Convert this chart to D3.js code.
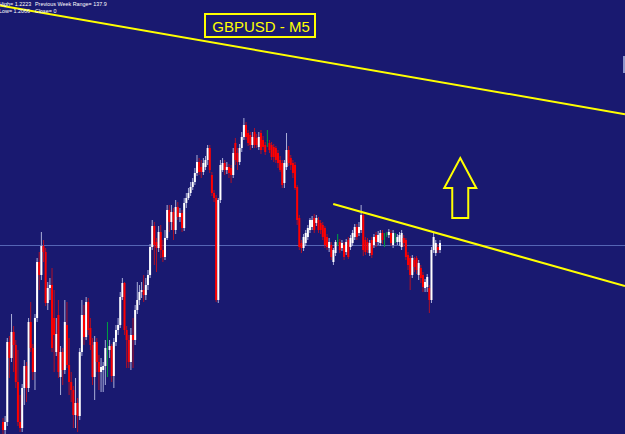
<!DOCTYPE html>
<html>
<head>
<meta charset="utf-8">
<title>GBPUSD - M5</title>
<script src="https://cdn.jsdelivr.net/npm/d3@7"></script>
<style>
  html, body { margin: 0; padding: 0; background: #191970; }
  svg { display: block; }
</style>
</head>
<body>
<svg width="625" height="434"></svg>
<script>
// candle data (5 min bars)
var opens = [
  1.21978,1.21970,1.21978,1.22058,1.22042,1.22068,1.22055,1.22018,1.21978,1.21972,
  1.22012,1.22034,1.22012,1.22078,1.22052,1.22028,1.22082,1.22138,1.22125,1.22154,
  1.22148,1.22097,1.22112,1.22115,1.22082,1.22048,1.22085,1.22023,1.22048,1.22030,
  1.22075,1.22035,1.22018,1.22010,1.21985,1.21997,1.21984,1.22048,1.22085,1.22063,
  1.22098,1.22072,1.22055,1.22023,1.22058,1.22038,1.22028,1.22030,1.22034,1.22052,
  1.22050,1.22054,1.22024,1.22058,1.22070,1.22075,1.22103,1.22117,1.22070,1.22060,
  1.22038,1.22065,1.22060,1.22090,1.22100,1.22108,1.22110,1.22105,1.22115,1.22125,
  1.22153,1.22174,1.22158,1.22152,1.22168,1.22150,1.22143,1.22162,1.22190,1.22178,
  1.22188,1.22170,1.22193,1.22183,1.22187,1.22172,1.22197,1.22202,1.22207,1.22213,
  1.22218,1.22227,1.22238,1.22233,1.22228,1.22233,1.22240,1.22252,1.22225,1.22207,
  1.22202,1.22100,1.22200,1.22230,1.22237,1.22230,1.22233,1.22232,1.22225,1.22257,
  1.22247,1.22238,1.22252,1.22263,1.22275,1.22267,1.22265,1.22255,1.22268,
  1.22262,1.22253,1.22267,1.22260,1.22255,1.22260,1.22257,1.22255,1.22253,
  1.22252,1.22247,1.22240,1.22237,1.22217,1.22233,1.22250,1.22242,1.22237,1.22235,
  1.22213,1.22182,1.22157,1.22152,1.22157,1.22163,1.22170,1.22173,1.22182,1.22177,
  1.22180,1.22177,1.22175,1.22172,1.22163,1.22152,1.22155,1.22138,1.22147,1.22160,
  1.22158,1.22152,1.22155,1.22148,1.22160,1.22153,1.22157,1.22163,1.22173,1.22167,
  1.22170,1.22185,1.22160,1.22158,1.22147,1.22160,1.22155,1.22165,
  1.22158,1.22157,1.22167,1.22162,1.22166,1.22165,1.22167,1.22155,
  1.22162,1.22158,1.22158,1.22153,1.22162,1.22160,1.22145,1.22142,1.22125,1.22140,
  1.22142,1.22125,1.22132,1.22125,1.22112,1.22113,1.22112,1.22100,1.22150,1.22147,
  1.22153,1.22150
];
var highs = [
  1.21982,1.21984,1.22062,1.22064,1.22086,1.22074,1.22060,1.22050,1.22005,1.22016,
  1.22040,1.22038,1.22082,1.22098,1.22056,1.22086,1.22142,1.22148,1.22168,1.22160,
  1.22152,1.22118,1.22122,1.22132,1.22110,1.22082,1.22100,1.22054,1.22052,1.22100,
  1.22098,1.22062,1.22028,1.22014,1.22022,1.22002,1.22052,1.22100,1.22095,1.22103,
  1.22102,1.22082,1.22062,1.22064,1.22062,1.22045,1.22042,1.22038,1.22060,1.22078,
  1.22060,1.22056,1.22062,1.22075,1.22082,1.22108,1.22122,1.22118,1.22074,1.22065,
  1.22072,1.22082,1.22095,1.22118,1.22115,1.22118,1.22125,1.22122,1.22130,1.22156,
  1.22180,1.22178,1.22162,1.22174,1.22175,1.22160,1.22170,1.22195,1.22195,1.22195,
  1.22192,1.22200,1.22198,1.22192,1.22190,1.22202,1.22207,1.22212,1.22218,1.22222,
  1.22232,1.22245,1.22242,1.22240,1.22242,1.22244,1.22255,1.22255,1.22228,1.22210,
  1.22205,1.22202,1.22240,1.22242,1.22240,1.22238,1.22236,1.22235,1.22252,1.22262,
  1.22252,1.22256,1.22268,1.22282,1.22278,1.22270,1.22268,1.22268,1.22272,
  1.22266,1.22268,1.22270,1.22264,1.22258,1.22270,1.22260,1.22258,1.22256,
  1.22254,1.22250,1.22244,1.22240,1.22240,1.22267,1.22254,1.22245,1.22240,1.22238,
  1.22215,1.22185,1.22160,1.22166,1.22170,1.22175,1.22182,1.22184,1.22186,1.22185,
  1.22183,1.22180,1.22178,1.22174,1.22166,1.22162,1.22158,1.22152,1.22160,1.22166,
  1.22161,1.22160,1.22158,1.22161,1.22163,1.22165,1.22170,1.22176,1.22176,1.22178,
  1.22195,1.22188,1.22163,1.22162,1.22160,1.22163,1.22166,1.22168,
  1.22169,1.22170,1.22170,1.22167,1.22168,1.22171,1.22170,1.22170,
  1.22167,1.22166,1.22168,1.22170,1.22165,1.22162,1.22148,1.22144,1.22145,1.22143,
  1.22144,1.22140,1.22135,1.22128,1.22121,1.22126,1.22115,1.22153,1.22167,1.22160,
  1.22156,1.22160
];
var lows = [
  1.21966,1.21966,1.21974,1.22022,1.22038,1.22028,1.22012,1.21974,1.21968,1.21968,
  1.21995,1.21998,1.22008,1.22048,1.22020,1.22010,1.22078,1.22110,1.22120,1.22138,
  1.22094,1.22090,1.22100,1.22048,1.22028,1.22044,1.22022,1.22005,1.22015,1.22026,
  1.22032,1.22005,1.21998,1.21972,1.21972,1.21968,1.21980,1.22044,1.22055,1.22060,
  1.22065,1.22050,1.22015,1.22000,1.22028,1.22010,1.22008,1.22008,1.22015,1.22023,
  1.22042,1.22018,1.22012,1.22054,1.22065,1.22072,1.22100,1.22065,1.22032,1.22032,
  1.22030,1.22032,1.22055,1.22086,1.22095,1.22102,1.22098,1.22100,1.22110,1.22122,
  1.22150,1.22135,1.22128,1.22148,1.22142,1.22138,1.22140,1.22160,1.22168,1.22170,
  1.22160,1.22166,1.22180,1.22178,1.22168,1.22169,1.22192,1.22200,1.22204,1.22210,
  1.22215,1.22224,1.22225,1.22222,1.22225,1.22230,1.22235,1.22227,1.22204,1.22198,
  1.22098,1.22097,1.22197,1.22228,1.22225,1.22226,1.22222,1.22217,1.22222,1.22235,
  1.22230,1.22235,1.22248,1.22260,1.22260,1.22254,1.22250,1.22252,1.22252,
  1.22252,1.22250,1.22246,1.22250,1.22245,1.22253,1.22247,1.22240,1.22238,
  1.22237,1.22232,1.22228,1.22212,1.22212,1.22230,1.22234,1.22230,1.22222,1.22210,
  1.22175,1.22150,1.22147,1.22149,1.22154,1.22160,1.22167,1.22170,1.22167,1.22174,
  1.22167,1.22166,1.22160,1.22152,1.22150,1.22148,1.22140,1.22135,1.22144,1.22154,
  1.22147,1.22149,1.22140,1.22145,1.22141,1.22150,1.22154,1.22160,1.22160,1.22164,
  1.22167,1.22144,1.22145,1.22147,1.22144,1.22142,1.22152,1.22153,
  1.22155,1.22154,1.22156,1.22153,1.22163,1.22162,1.22154,1.22152,
  1.22157,1.22155,1.22154,1.22150,1.22153,1.22140,1.22130,1.22110,1.22122,1.22128,
  1.22126,1.22120,1.22117,1.22108,1.22108,1.22108,1.22087,1.22097,1.22147,1.22144,
  1.22147,1.22147
];
var closes = [
  1.21970,1.21978,1.22058,1.22042,1.22068,1.22055,1.22018,1.21978,1.21972,1.22012,
  1.22034,1.22012,1.22078,1.22052,1.22028,1.22082,1.22138,1.22125,1.22154,1.22148,
  1.22097,1.22112,1.22115,1.22052,1.22065,1.22066,1.22028,1.22048,1.22030,1.22078,
  1.22035,1.22018,1.22010,1.21985,1.21997,1.21984,1.22048,1.22085,1.22063,1.22098,
  1.22070,1.22055,1.22023,1.22058,1.22038,1.22028,1.22033,1.22034,1.22052,1.22052,
  1.22054,1.22024,1.22058,1.22070,1.22075,1.22103,1.22117,1.22070,1.22060,1.22038,
  1.22065,1.22060,1.22090,1.22100,1.22108,1.22110,1.22105,1.22115,1.22125,1.22153,
  1.22174,1.22155,1.22152,1.22168,1.22150,1.22143,1.22162,1.22190,1.22178,1.22188,
  1.22170,1.22193,1.22183,1.22187,1.22172,1.22197,1.22202,1.22207,1.22213,1.22218,
  1.22227,1.22238,1.22228,1.22228,1.22237,1.22240,1.22252,1.22230,1.22207,1.22202,
  1.22100,1.22200,1.22235,1.22237,1.22230,1.22233,1.22227,1.22225,1.22247,1.22240,
  1.22238,1.22252,1.22263,1.22275,1.22263,1.22257,1.22255,1.22263,1.22255,
  1.22255,1.22263,1.22250,1.22253,1.22248,1.22260,1.22250,1.22243,1.22243,
  1.22240,1.22237,1.22230,1.22215,1.22237,1.22250,1.22237,1.22235,1.22227,1.22212,
  1.22180,1.22153,1.22152,1.22163,1.22167,1.22172,1.22180,1.22180,1.22170,1.22182,
  1.22170,1.22170,1.22163,1.22155,1.22153,1.22158,1.22143,1.22150,1.22158,1.22160,
  1.22150,1.22157,1.22143,1.22158,1.22143,1.22162,1.22167,1.22173,1.22163,1.22173,
  1.22185,1.22150,1.22148,1.22150,1.22157,1.22145,1.22163,1.22158,
  1.22165,1.22167,1.22160,1.22162,1.22166,1.22168,1.22157,1.22167,
  1.22162,1.22163,1.22165,1.22167,1.22157,1.22143,1.22135,1.22125,1.22142,1.22133,
  1.22130,1.22137,1.22122,1.22113,1.22118,1.22123,1.22100,1.22150,1.22163,1.22157,
  1.22150,1.22157
];

// bid line and hand-drawn lines (candle index, price)
var bidPrice = 1.22155;
var upperLineIdx = [0, 205];
var upperLinePrice = [1.22394, 1.22318];
var lowerLineIdx = [154.9, 205];
var lowerLinePrice = [1.22196, 1.22166];
var arrowIdx = 214.5;
var arrowPrice = [1.22242, 1.22182]; // tip, tail

var headerLines = [
  ["High= 1.2223", "Previous Week Range= 137.9"],
  ["Low= 1.2066", "Close= 0"]
];

var svg = d3.select("svg"),
    width = +svg.attr("width"),
    height = +svg.attr("height");

var n = closes.length;

var x = d3.scaleLinear()
    .domain([0, n - 1])
    .range([3, 440]);

var y = d3.scaleLinear()
    .domain([1.21966, 1.22400])
    .range([434, 0]);

svg.append("rect")
    .attr("width", width)
    .attr("height", height)
    .attr("fill", "#191970");

// bid line
svg.append("line")
    .attr("x1", 0).attr("x2", width)
    .attr("y1", Math.round(y(bidPrice)) + 0.5)
    .attr("y2", Math.round(y(bidPrice)) + 0.5)
    .attr("stroke", "#5565b5")
    .attr("stroke-width", 1);

var candles = d3.range(n).map(function (i) {
    return {i: i, o: opens[i], h: highs[i], l: lows[i], c: closes[i]};
});

function kind(d) {
    if (d.c > d.o) return "up";
    if (d.c < d.o) return "down";
    return "doji";
}
var wickColor = {up: "#a9aed8", down: "#b01028", doji: "#00a040"};
var bodyColor = {up: "#ffffff", down: "#ff0000", doji: "#00a040"};

var g = svg.append("g").attr("class", "candles");

g.selectAll("rect.wick")
    .data(candles)
    .enter().append("rect")
    .attr("class", "wick")
    .attr("x", function (d) { return x(d.i) - 0.5; })
    .attr("width", 1)
    .attr("y", function (d) { return y(d.h); })
    .attr("height", function (d) { return Math.max(1, y(d.l) - y(d.h)); })
    .attr("fill", function (d) { return wickColor[kind(d)]; });

g.selectAll("rect.body")
    .data(candles)
    .enter().append("rect")
    .attr("class", "body")
    .attr("x", function (d) { return x(d.i) - (kind(d) === "doji" ? 0.5 : 1); })
    .attr("width", function (d) { return kind(d) === "doji" ? 1 : 2; })
    .attr("y", function (d) { return y(Math.max(d.o, d.c)); })
    .attr("height", function (d) { return Math.max(1, Math.abs(y(d.o) - y(d.c))); })
    .attr("fill", function (d) { return bodyColor[kind(d)]; });

// trend lines, extended to the right edge
function extend(idx, price, fromLeftEdge) {
    var slope = (price[1] - price[0]) / (idx[1] - idx[0]);
    var i0 = fromLeftEdge ? x.invert(0) : idx[0];
    var i1 = x.invert(width);
    return [[x(i0), y(price[0] + slope * (i0 - idx[0]))],
            [x(i1), y(price[0] + slope * (i1 - idx[0]))]];
}

[extend(upperLineIdx, upperLinePrice, true),
 extend(lowerLineIdx, lowerLinePrice, false)].forEach(function (pts) {
    svg.append("line")
        .attr("x1", pts[0][0]).attr("y1", pts[0][1])
        .attr("x2", pts[1][0]).attr("y2", pts[1][1])
        .attr("stroke", "#ffff00")
        .attr("stroke-width", 2);
});

// up arrow
var ax = x(arrowIdx), aTop = y(arrowPrice[0]), aBot = y(arrowPrice[1]);
var headH = 30, headW = 16, shaftW = 8;
svg.append("path")
    .attr("d", d3.line()([
        [ax, aTop],
        [ax + headW, aTop + headH],
        [ax + shaftW, aTop + headH],
        [ax + shaftW, aBot],
        [ax - shaftW, aBot],
        [ax - shaftW, aTop + headH],
        [ax - headW, aTop + headH]
    ]) + "Z")
    .attr("fill", "none")
    .attr("stroke", "#ffff00")
    .attr("stroke-width", 2)
    .attr("stroke-linejoin", "miter");

// price tag stub on the right edge
svg.append("rect")
    .attr("x", width - 2).attr("y", 56)
    .attr("width", 2).attr("height", 17)
    .attr("fill", "#8c94cc");

// title box
svg.append("rect")
    .attr("x", 205).attr("y", 14)
    .attr("width", 110).attr("height", 23)
    .attr("fill", "none")
    .attr("stroke", "#ffff00")
    .attr("stroke-width", 2);

svg.append("text")
    .attr("x", 261).attr("y", 32)
    .attr("text-anchor", "middle")
    .attr("fill", "#ffff00")
    .attr("font-family", "Liberation Sans, Arial, sans-serif")
    .attr("font-size", 15)
    .text("GBPUSD - M5");

// header stats
headerLines.forEach(function (row, k) {
    svg.append("text")
        .attr("x", -1).attr("y", 6 + k * 6.5)
        .attr("fill", "#ffffff")
        .attr("font-family", "Liberation Sans, Arial, sans-serif")
        .attr("font-size", 5.4)
        .text(row[0]);
    svg.append("text")
        .attr("x", 35).attr("y", 6 + k * 6.5)
        .attr("fill", "#ffffff")
        .attr("font-family", "Liberation Sans, Arial, sans-serif")
        .attr("font-size", 5.4)
        .text(row[1]);
});
</script>
</body>
</html>
